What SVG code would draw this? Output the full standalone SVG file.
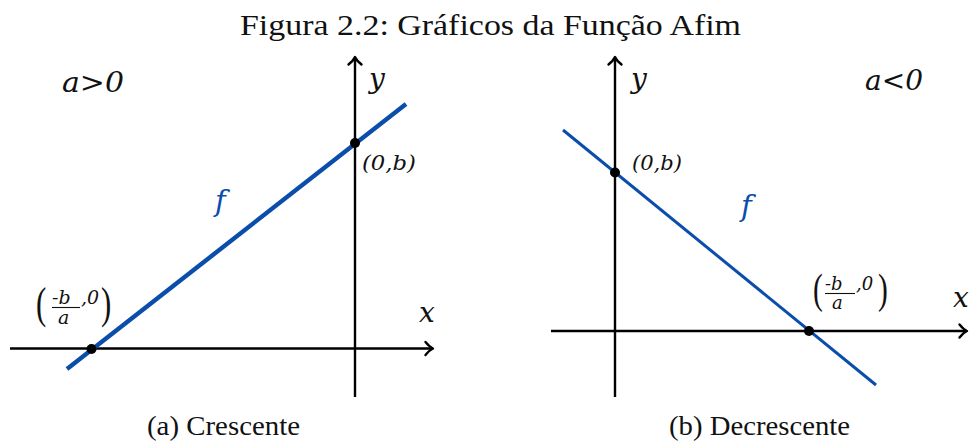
<svg xmlns="http://www.w3.org/2000/svg" width="971" height="441" viewBox="0 0 971 441">
<style>
.t{fill:#111;font-family:"Liberation Serif","Times New Roman",serif;}
.m{font-style:italic;fill:#111;font-family:"DejaVu Serif",serif;}
.ax{stroke:#000;stroke-width:2.4;fill:none;}
.blue{stroke:#0a4dab;fill:none;}
.dot{fill:#000;}
.fb{fill:#0a4dab;}
</style>
<defs>
<marker id="arr" markerUnits="userSpaceOnUse" markerWidth="20" markerHeight="20" viewBox="-10 -10 20 20" refX="0" refY="0" orient="auto">
<path d="M-6.5,-6.5 Q-2.5,-1.5 1,0 Q-2.5,1.5 -6.5,6.5" stroke="#000" stroke-width="2.4" fill="none" stroke-linecap="round" stroke-linejoin="round"/>
</marker>
</defs>
<text class="t" x="490.5" y="35" font-size="29" text-anchor="middle" textLength="501" lengthAdjust="spacingAndGlyphs">Figura 2.2: Gráficos da Função Afim</text>

<g id="connectors">
<line class="ax" x1="10" y1="348.5" x2="432" y2="348.5" marker-end="url(#arr)"/>
<line class="ax" x1="355" y1="397" x2="355" y2="58" marker-end="url(#arr)"/>
<line class="ax" x1="551" y1="331" x2="966" y2="331" marker-end="url(#arr)"/>
<line class="ax" x1="615" y1="397" x2="615" y2="58" marker-end="url(#arr)"/>
<line class="blue" x1="67" y1="369" x2="406" y2="104" stroke-width="4.4"/>
<line class="blue" x1="563" y1="130" x2="876" y2="385" stroke-width="3"/>
</g>

<g id="left-panel">
<text class="m" x="62" y="92" font-size="28" textLength="62" lengthAdjust="spacingAndGlyphs">a&gt;0</text>
<text class="m" x="369" y="88" font-size="28">y</text>
<text class="m fb" x="215" y="211" font-size="29">f</text>
<text class="m" x="419" y="322" font-size="28">x</text>
<circle class="dot" cx="355" cy="143" r="5"/>
<circle class="dot" cx="91.5" cy="349" r="5"/>
<text class="m" x="362" y="170" font-size="20" textLength="54" lengthAdjust="spacingAndGlyphs">(0,b)</text>
<g id="left-frac">
<text class="t" x="36" y="318" font-size="44" transform="translate(36 318) scale(0.7 1) translate(-36 -318)">(</text>
<text class="m" x="52" y="304" font-size="19">-b</text>
<line x1="52" y1="307.5" x2="80" y2="307.5" stroke="#111" stroke-width="1.1"/>
<text class="m" x="58" y="324" font-size="19">a</text>
<text class="m" x="81" y="304" font-size="19">,0</text>
<text class="t" x="101" y="318" font-size="44" transform="translate(101 318) scale(0.7 1) translate(-101 -318)">)</text>
</g>
<text class="t" x="223.5" y="435" font-size="27" text-anchor="middle" textLength="153" lengthAdjust="spacingAndGlyphs">(a)  Crescente</text>
</g>

<g id="right-panel">
<text class="m" x="865" y="90" font-size="28" textLength="58" lengthAdjust="spacingAndGlyphs">a&lt;0</text>
<text class="m" x="631" y="88" font-size="28">y</text>
<text class="m fb" x="741" y="216" font-size="29">f</text>
<text class="m" x="953" y="307" font-size="28">x</text>
<circle class="dot" cx="615" cy="172.5" r="5"/>
<circle class="dot" cx="809" cy="331" r="5"/>
<text class="m" x="632" y="170" font-size="20" textLength="50" lengthAdjust="spacingAndGlyphs">(0,b)</text>
<g id="right-frac">
<text class="t" x="813" y="303" font-size="42" transform="translate(813 303) scale(0.7 1) translate(-813 -303)">(</text>
<text class="m" x="825" y="290" font-size="18">-b</text>
<line x1="825" y1="293.5" x2="855" y2="293.5" stroke="#111" stroke-width="1.1"/>
<text class="m" x="832" y="309" font-size="18">a</text>
<text class="m" x="856" y="290" font-size="18">,0</text>
<text class="t" x="878" y="303" font-size="42" transform="translate(878 303) scale(0.7 1) translate(-878 -303)">)</text>
</g>
<text class="t" x="759.5" y="435" font-size="27" text-anchor="middle" textLength="181" lengthAdjust="spacingAndGlyphs">(b)  Decrescente</text>
</g>
</svg>
